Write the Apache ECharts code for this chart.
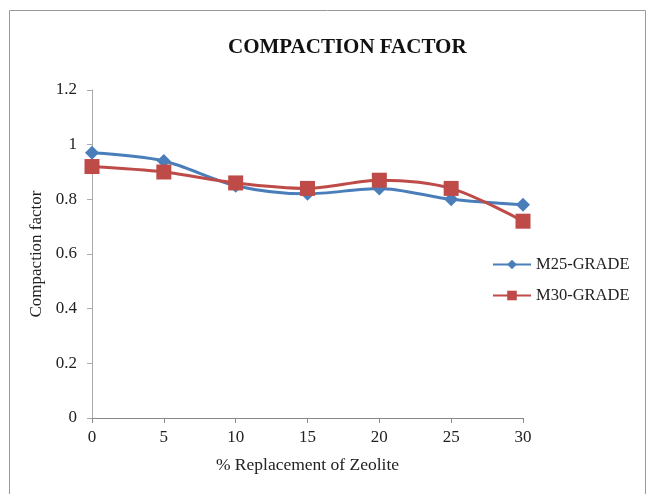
<!DOCTYPE html>
<html><head><meta charset="utf-8">
<script src="https://cdn.jsdelivr.net/npm/echarts@6/dist/echarts.min.js"></script>
<style>html,body{margin:0;padding:0;background:#fff}#c{width:649px;height:494px}</style>
</head><body><div id="c"></div>
<script>
const xValues = [0, 5, 10, 15, 20, 25, 30];
const m25 = [0.97, 0.94, 0.85, 0.82, 0.84, 0.80, 0.78];
const m30 = [0.92, 0.90, 0.86, 0.84, 0.87, 0.84, 0.72];
const seriesNames = ['M25-GRADE', 'M30-GRADE'];
const font = '"Liberation Serif", "Times New Roman", serif';
const chart = echarts.init(document.getElementById('c'));
chart.setOption({
  animation: false,
  backgroundColor: '#fff',
  graphic: [{type: 'rect', shape: {x: 9.5, y: 10.5, width: 636, height: 490}, style: {fill: 'none', stroke: '#9a9a9a', lineWidth: 1}}],
  title: {text: 'COMPACTION FACTOR', left: 228, top: 37, textStyle: {fontFamily: font, fontSize: 21, fontWeight: 'bold', color: '#111'}, padding: 0, itemGap: 0},
  grid: {left: 92, right: 126, top: 90, bottom: 76},
  legend: {orient: 'vertical', left: 487, top: 251, itemWidth: 38, itemHeight: 12, itemGap: 14,
    textStyle: {fontFamily: font, fontSize: 16.5, color: '#222'}, data: seriesNames},
  xAxis: {type: 'value', min: 0, max: 30, interval: 5,
    name: '% Replacement of Zeolite', nameLocation: 'middle', nameGap: 38,
    nameTextStyle: {fontFamily: font, fontSize: 17.5, color: '#222'},
    axisLine: {lineStyle: {color: '#888'}}, axisTick: {show: true, length: 5, lineStyle: {color: '#888'}},
    axisLabel: {fontFamily: font, fontSize: 17, color: '#222', margin: 11}, splitLine: {show: false}},
  yAxis: {type: 'value', min: 0, max: 1.2, interval: 0.2,
    name: 'Compaction factor', nameLocation: 'middle', nameGap: 41,
    nameTextStyle: {fontFamily: font, fontSize: 17, color: '#222'},
    axisLine: {show: true, lineStyle: {color: '#aaa'}}, axisTick: {show: true, length: 5, lineStyle: {color: '#aaa'}},
    axisLabel: {fontFamily: font, fontSize: 17, color: '#222', margin: 15, formatter: v => String(+v.toFixed(1))}, splitLine: {show: false}},
  series: [
    {name: seriesNames[0], type: 'line', smooth: 0.3, symbol: 'diamond', symbolSize: 14,
     data: xValues.map((x, i) => [x, m25[i]]),
     lineStyle: {color: '#4a7ebb', width: 3}, itemStyle: {color: '#4a7ebb'}},
    {name: seriesNames[1], type: 'line', smooth: 0.3, symbol: 'rect', symbolSize: 15,
     data: xValues.map((x, i) => [x, m30[i]]),
     lineStyle: {color: '#be4b48', width: 3}, itemStyle: {color: '#be4b48'}}
  ]
});
</script></body></html>
